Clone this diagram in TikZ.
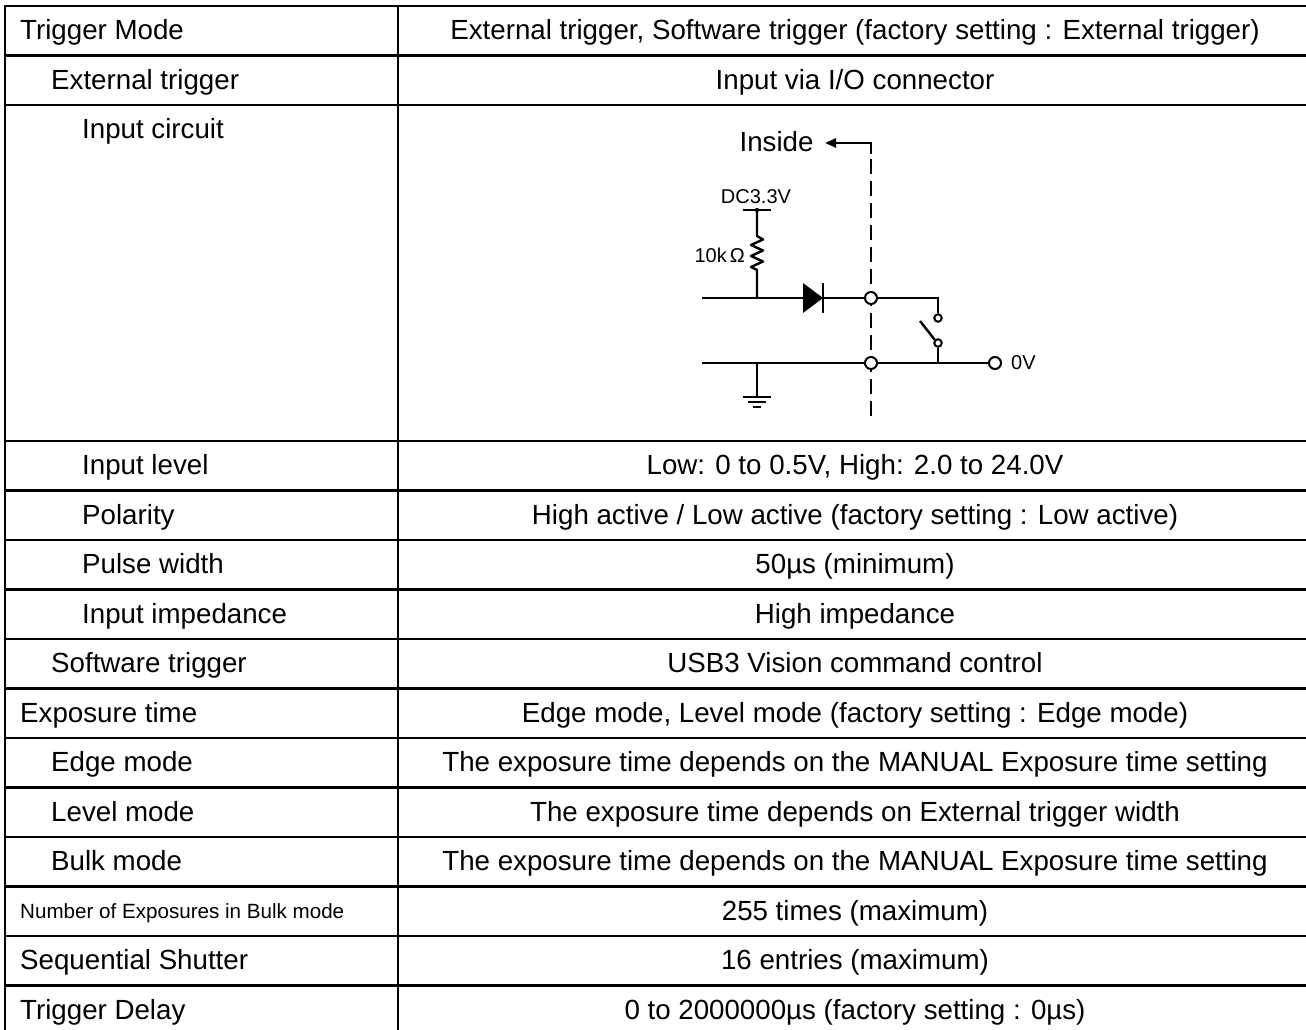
\documentclass[tikz,border=0pt]{standalone}
\usepackage{fontspec}
\setmainfont{Liberation Sans}
\usetikzlibrary{arrows.meta}
\begin{document}
\begin{tikzpicture}[x=1pt,y=-1pt,
  grid/.style={line width=2.3pt},
  lbl/.style={anchor=base west, inner sep=0pt, font=\fontsize{27.7}{33}\selectfont},
  slbl/.style={anchor=base west, inner sep=0pt, font=\fontsize{20.6}{25}\selectfont},
  val/.style={anchor=base, inner sep=0pt, font=\fontsize{27.7}{33}\selectfont},
  wire/.style={line width=2.4pt},
  term/.style={circle, draw, line width=2pt, fill=white, minimum size=12pt, inner sep=0pt},
  sterm/.style={circle, draw, line width=2pt, fill=white, minimum size=7.5pt, inner sep=0pt},
  clbl/.style={inner sep=0pt, font=\fontsize{20}{24}\selectfont},
]
\useasboundingbox (0,0) rectangle (1306,1030);
\fill[white] (0,0) rectangle (1306,1030);

% table grid
\foreach \y in {6,55.5,105,441,490.5,540,589.5,639,688.5,738,787.5,837,886.5,936,985.5,1035}
  \draw[grid] (3.85,\y) -- (1315,\y);
\draw[grid] (5,6) -- (5,1040);
\draw[grid] (398,6) -- (398,1040);
\draw[grid] (1312,6) -- (1312,1040);

% column 1
\node[lbl] (l1) at (20,39.75) {Trigger Mode};
\node[lbl] (l2) at (51,89.25) {External trigger};
\node[lbl] (l3) at (82,139) {Input circuit};
\node[lbl] (l4) at (82,474.75) {Input level};
\node[lbl] (l5) at (82,524.25) {Polarity};
\node[lbl] (l6) at (82,573.75) {Pulse width};
\node[lbl] (l7) at (82,623.25) {Input impedance};
\node[lbl] (l8) at (51,672.75) {Software trigger};
\node[lbl] (l9) at (20,722.25) {Exposure time};
\node[lbl] (l10) at (51,771.75) {Edge mode};
\node[lbl] (l11) at (51,821.25) {Level mode};
\node[lbl] (l12) at (51,870.75) {Bulk mode};
\node[slbl] (l13) at (20,918.25) {Number of Exposures in Bulk mode};
\node[lbl] (l14) at (20,969.75) {Sequential Shutter};
\node[lbl] (l15) at (20,1019.25) {Trigger Delay};

% column 2
\def\cx{855}
\node[val] (v1) at (\cx,39.75) {External trigger, Software trigger (factory setting : External trigger)};
\node[val] (v2) at (\cx,89.25) {Input via I/O connector};
\node[val] (v4) at (\cx,474.75) {Low: 0 to 0.5V, High: 2.0 to 24.0V};
\node[val] (v5) at (\cx,524.25) {High active / Low active (factory setting : Low active)};
\node[val] (v6) at (\cx,573.75) {50µs (minimum)};
\node[val] (v7) at (\cx,623.25) {High impedance};
\node[val] (v8) at (\cx,672.75) {USB3 Vision command control};
\node[val] (v9) at (\cx,722.25) {Edge mode, Level mode (factory setting : Edge mode)};
\node[val] (v10) at (\cx,771.75) {The exposure time depends on the MANUAL Exposure time setting};
\node[val] (v11) at (\cx,821.25) {The exposure time depends on External trigger width};
\node[val] (v12) at (\cx,870.75) {The exposure time depends on the MANUAL Exposure time setting};
\node[val] (v13) at (\cx,920.25) {255 times (maximum)};
\node[val] (v14) at (\cx,969.75) {16 entries (maximum)};
\node[val] (v15) at (\cx,1019.25) {0 to 2000000µs (factory setting : 0µs)};

% circuit
\node[val] (inside) at (776.5,151) {Inside};
\coordinate (corner) at (871,143);
\coordinate (dashtop) at (871,154);
\coordinate (dashbot) at (871,422);
\draw[wire, line cap=butt, -{Triangle[length=11pt,width=9pt]}] (dashtop) -- (corner) -- (825,143);
\draw[wire, dash pattern=on 15pt off 7pt] (871,159) -- (dashbot);

% supply
\node[clbl, anchor=base] (dc) at (756,203) {DC3.3V};
\coordinate (vcc) at (757,210);
\draw[wire] (743,210) -- (771,210);
\fill (vcc) circle (2.2pt);
\node[clbl, anchor=base east] (res) at (745,262) {10k\kern3ptΩ};
\coordinate (sig) at (757,298);
\draw[wire, line join=round] (vcc) -- (757,236) -- (763,239.5) -- (751,245) -- (763,250.5) -- (751,256) -- (763,261.5) -- (751,267) -- (757,270) -- (sig);

% terminals
\node[term] (t1) at (871,298) {};
\node[term] (t2) at (871,363) {};
\node[sterm] (s1) at (938,318) {};
\node[sterm] (s2) at (938,343) {};
\node[term] (t0) at (995,363) {};
\node[clbl, anchor=west] (zv) at (1011,363) {0V};

% upper line with diode
\draw[wire] (702,298) -- (803,298);
\fill (803,283) -- (823,298) -- (803,313) -- cycle;
\draw[wire] (823,283) -- (823,313);
\draw[wire] (823,298) -- (t1);
\draw[wire] (t1) -- (938,298) -- (s1);

% switch
\coordinate (jn) at (938,363);
\draw[wire] (s2) -- (jn);
\draw[wire] (s2.135) -- (920,321);

% lower line
\draw[wire] (702,363) -- (t2);
\draw[wire] (t2) -- (t0);

% ground
\coordinate (gnd) at (757,397);
\draw[wire] (757,363) -- (gnd);
\draw[line width=2.2pt] (743,397) -- (771,397);
\draw[line width=2.2pt] (748,402) -- (766,402);
\draw[line width=2.2pt] (753,407) -- (761,407);
\end{tikzpicture}
\end{document}
